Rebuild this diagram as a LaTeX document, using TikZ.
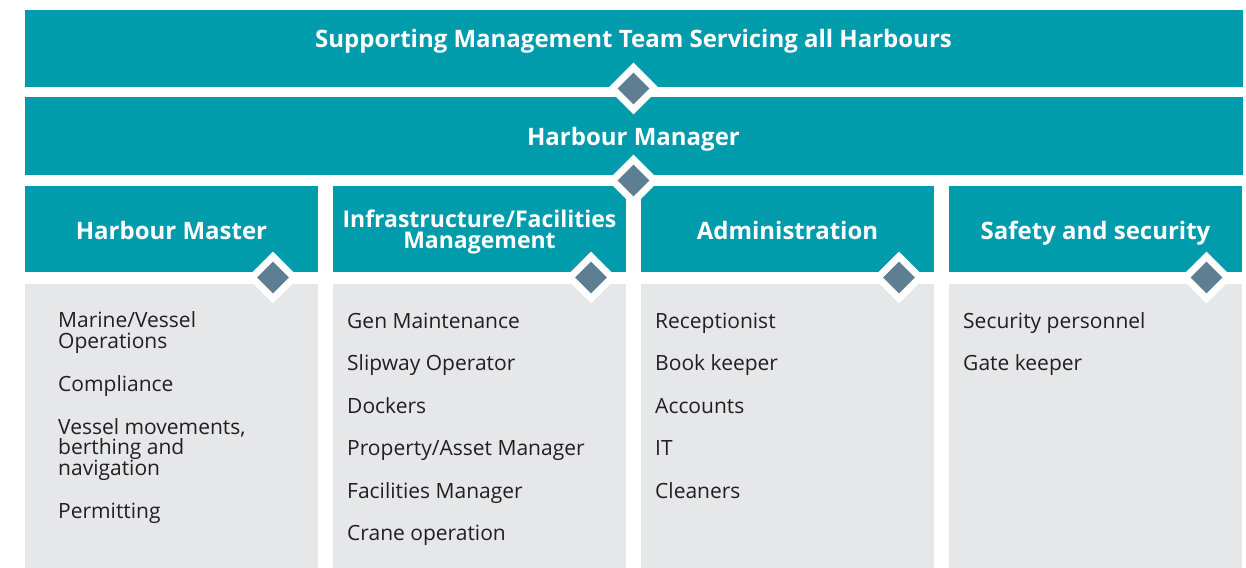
\documentclass[tikz,border=0pt]{standalone}
\usepackage{fontspec}
\setmainfont{Open Sans}
\usetikzlibrary{shapes.geometric}
\definecolor{hteal}{RGB}{0,156,172}
\definecolor{hslate}{RGB}{94,126,145}
\definecolor{hgray}{RGB}{230,231,232}
\definecolor{htext}{RGB}{35,31,32}
\begin{document}
\begin{tikzpicture}[x=1pt,y=-1pt,
  bar/.style={fill=hteal, draw=none, inner sep=0pt, anchor=north west},
  listbox/.style={fill=hgray, draw=none, inner sep=0pt, anchor=north west},
  hdr/.style={text=white, font=\bfseries\fontsize{24}{24}\selectfont, inner sep=0pt, anchor=base},
  hdrs/.style={text=white, font=\bfseries\fontsize{23}{21}\selectfont, inner sep=0pt, anchor=base, align=center},
  item/.style={text=htext, font=\fontsize{21}{20.7}\selectfont, inner sep=0pt, anchor=base west, align=left},
  dout/.style={diamond, aspect=1, fill=white, minimum width=52pt, minimum height=52pt, inner sep=0pt},
  din/.style={diamond, aspect=1, fill=hslate, minimum width=32pt, minimum height=32pt, inner sep=0pt}]
\useasboundingbox (0,0) rectangle (1246,567);
\fill[white] (0,0) rectangle (1246,567);
% bars
\node[bar, minimum width=1218pt, minimum height=77.5pt] (top) at (24.5,9.5) {};
\node[bar, minimum width=1218pt, minimum height=78pt] (mgr) at (24.5,97) {};
% column headers
\node[bar, minimum width=293pt, minimum height=85.5pt] (h1) at (24.5,186) {};
\node[bar, minimum width=293pt, minimum height=85.5pt] (h2) at (333,186) {};
\node[bar, minimum width=293pt, minimum height=85.5pt] (h3) at (641,186) {};
\node[bar, minimum width=293pt, minimum height=85.5pt] (h4) at (949,186) {};
% list boxes
\node[listbox, minimum width=293pt, minimum height=284pt] (l1) at (24.5,283.5) {};
\node[listbox, minimum width=293pt, minimum height=284pt] (l2) at (333,283.5) {};
\node[listbox, minimum width=293pt, minimum height=284pt] (l3) at (641,283.5) {};
\node[listbox, minimum width=293pt, minimum height=284pt] (l4) at (949,283.5) {};
% header texts
\node[hdr] (ttop) at (633.5,47.5) {Supporting Management Team Servicing all Harbours};
\node[hdr] (tmgr) at (633.5,145) {Harbour Manager};
\node[hdr] (th1) at (171.5,239) {Harbour Master};
\node[hdrs] (th2) at (479.5,248.5) {Infrastructure/Facilities\\Management};
\node[hdr] (th3) at (787.5,239) {Administration};
\node[hdr] (th4) at (1095.5,239) {Safety and security};
% diamonds
\node[dout] (d1) at (633.5,88.5) {};
\node[din] (d1i) at (d1) {};
\node[dout] (d2) at (633.5,180.5) {};
\node[din] (d2i) at (d2) {};
\node[dout] (d3) at (273,277.5) {};
\node[din] (d3i) at (d3) {};
\node[dout] (d4) at (591,277.5) {};
\node[din] (d4i) at (d4) {};
\node[dout] (d5) at (899,277.5) {};
\node[din] (d5i) at (d5) {};
\node[dout] (d6) at (1206.5,277.5) {};
\node[din] (d6i) at (d6) {};
% column 1 items
\node[item] (a1) at (58,348.5) {Marine/Vessel\\Operations};
\node[item] (a2) at (58,391) {Compliance};
\node[item] (a3) at (58,475.5) {Vessel movements,\\berthing and\\navigation};
\node[item] (a4) at (58,518) {Permitting};
% column 2 items
\node[item] (b1) at (347,328) {Gen Maintenance};
\node[item] (b2) at (347,370.5) {Slipway Operator};
\node[item] (b3) at (347,413) {Dockers};
\node[item] (b4) at (347,455.5) {Property/Asset Manager};
\node[item] (b5) at (347,498) {Facilities Manager};
\node[item] (b6) at (347,540.5) {Crane operation};
% column 3 items
\node[item] (c1) at (655,328) {Receptionist};
\node[item] (c2) at (655,370.5) {Book keeper};
\node[item] (c3) at (655,413) {Accounts};
\node[item] (c4) at (655,455.5) {IT};
\node[item] (c5) at (655,498) {Cleaners};
% column 4 items
\node[item] (e1) at (963,328) {Security personnel};
\node[item] (e2) at (963,370.5) {Gate keeper};
\end{tikzpicture}
\end{document}
